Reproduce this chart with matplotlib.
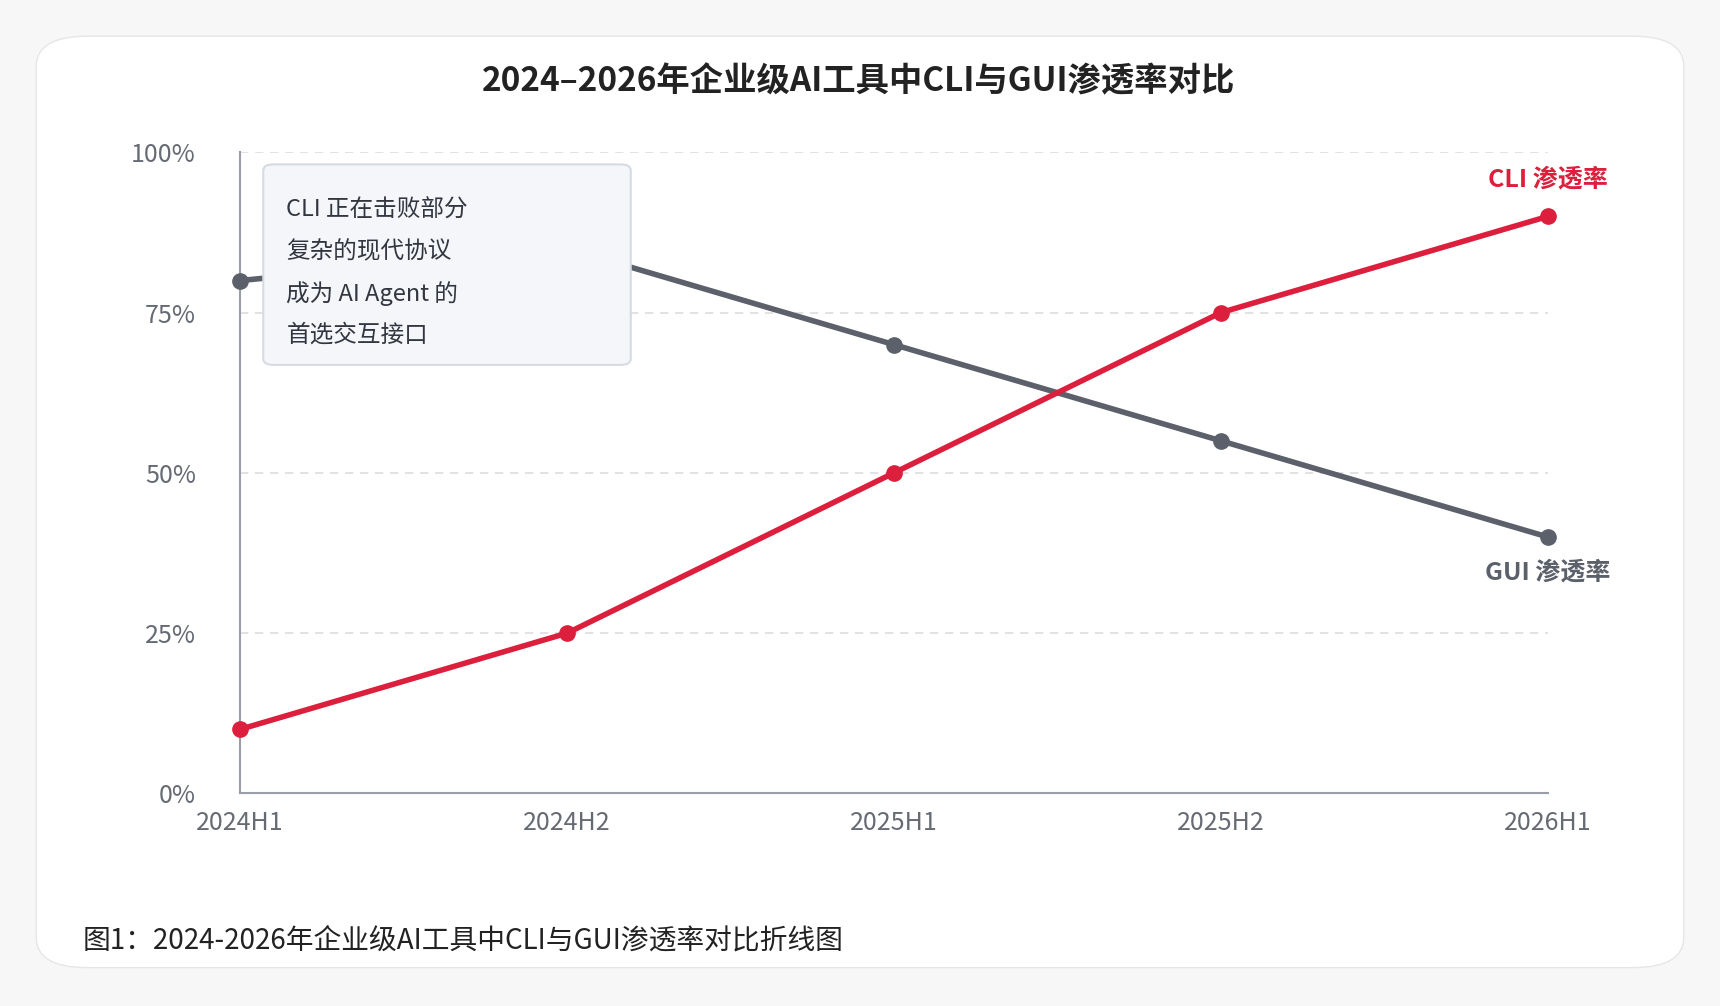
import matplotlib.pyplot as plt
from matplotlib.patches import FancyBboxPatch

plt.rcParams['font.family'] = ['Noto Sans CJK SC', 'DejaVu Sans']

periods = ['2024H1', '2024H2', '2025H1', '2025H2', '2026H1']
cli = [10, 25, 50, 75, 90]
gui = [80, 85, 70, 55, 40]
yticks = [0, 25, 50, 75, 100]
ylabels = ['0%', '25%', '50%', '75%', '100%']

red = '#DC1F3C'
gray = '#5B606B'

W, H = 1568, 918
fig = plt.figure(figsize=(17.2, 10.06), dpi=100)
fig.patch.set_facecolor('#F7F7F8')
# white card
card = FancyBboxPatch((33 / W, 1 - 883 / H), 1502 / W, 850 / H,
                      boxstyle='round,pad=0,rounding_size=0.03',
                      transform=fig.transFigure, facecolor='white',
                      edgecolor='#E6E6E8', lw=1, zorder=-10)
fig.patches.append(card)

ax = fig.add_axes([219 / W, 1 - 724 / H, (1411 - 219) / W, (724 - 139) / H])
ax.set_zorder(1)
ax.set_facecolor('none')
x = range(len(periods))
ax.plot(x, gui, color=gray, lw=4, marker='o', ms=11, zorder=3, clip_on=False)
ax.plot(x, cli, color=red, lw=4, marker='o', ms=11, zorder=4, clip_on=False)

ax.set_xlim(0, 4)
ax.set_ylim(0, 100)
ax.set_yticks(yticks)
ax.set_yticklabels(ylabels)
ax.set_xticks(list(x))
ax.set_xticklabels(periods)
ax.tick_params(length=0, labelsize=18, colors='#666A73', pad=12)
ax.tick_params(axis='y', pad=32)
for v in yticks[1:]:
    ax.axhline(v, color='#DDDDE0', lw=1.2, ls=(0, (5, 4)), zorder=1)
for s in ['top', 'right']:
    ax.spines[s].set_visible(False)
for s in ['left', 'bottom']:
    ax.spines[s].set_color('#9A9EA6')
    ax.spines[s].set_linewidth(1.5)

ax.text(4, 95.7, 'CLI 渗透率', color=red, fontsize=18, fontweight='bold', ha='center', va='center')
ax.text(4, 34.5, 'GUI 渗透率', color=gray, fontsize=18, fontweight='bold', ha='center', va='center')

box = FancyBboxPatch((240 / W, 1 - 333 / H), 335 / W, 183 / H,
                     boxstyle='round,pad=0,rounding_size=0.006',
                     transform=fig.transFigure, facecolor='#F4F6FA',
                     edgecolor='#D6DAE2', lw=1.5, zorder=5)
fig.add_artist(box)
for i, line in enumerate(['CLI 正在击败部分', '复杂的现代协议', '成为 AI Agent 的', '首选交互接口']):
    t = fig.text(261 / W, 1 - (192 + 38 * i) / H, line, fontsize=17, color='#333640',
                 va='center')
    t.set_zorder(6)

fig.text(783 / W, 1 - 75 / H, '2024–2026年企业级AI工具中CLI与GUI渗透率对比',
         fontsize=24, fontweight='bold', color='#222', ha='center', va='center')
fig.text(75 / W, 1 - 858 / H, '图1：2024-2026年企业级AI工具中CLI与GUI渗透率对比折线图',
         fontsize=20, color='#222', va='center')

fig.savefig('out.png', dpi=100)
